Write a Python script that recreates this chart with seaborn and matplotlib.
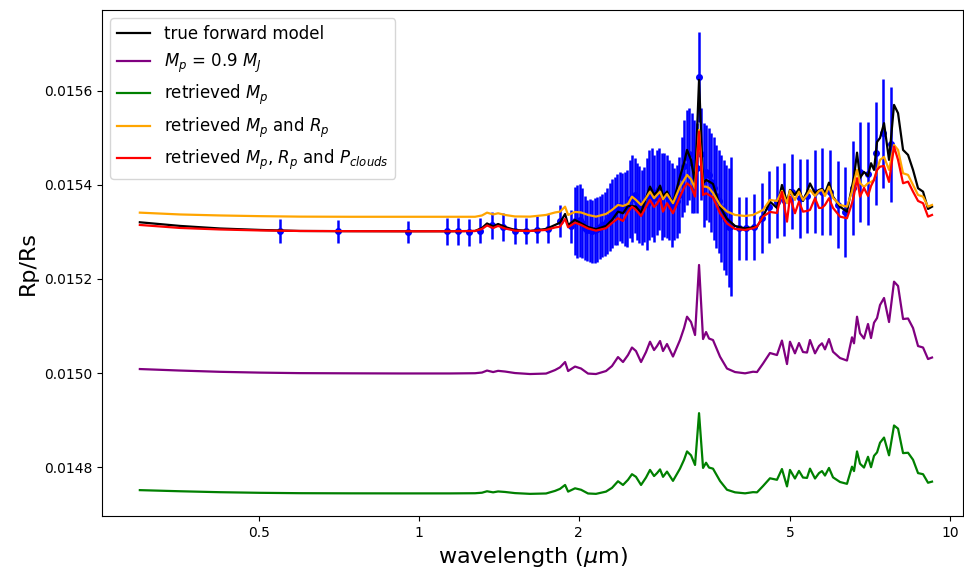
import numpy as np
import pandas as pd
import matplotlib
matplotlib.use("Agg")
import matplotlib.pyplot as plt
import seaborn as sns
from matplotlib.ticker import FixedLocator, NullLocator, FixedFormatter

# ---------------- data ----------------
wavelength = [
    0.298, 0.355, 0.422, 0.502, 0.597, 0.742, 0.921, 1.144, 1.275, 1.314,
    1.343, 1.379, 1.409, 1.452, 1.516, 1.618, 1.735, 1.804, 1.843, 1.884,
    1.909, 1.967, 2.019, 2.081, 2.154, 2.250, 2.309, 2.370, 2.422, 2.475,
    2.518, 2.562, 2.619, 2.676, 2.723, 2.771, 2.807, 2.844, 2.881, 2.931,
    3.008, 3.101, 3.156, 3.197, 3.253, 3.310, 3.368, 3.427, 3.472, 3.517,
    3.578, 3.689, 3.802, 3.937, 4.112, 4.256, 4.331, 4.445, 4.581, 4.722,
    4.825, 4.932, 4.996, 5.105, 5.195, 5.286, 5.379, 5.449, 5.569, 5.666,
    5.740, 5.815, 5.917, 6.021, 6.207, 6.397, 6.538, 6.595, 6.682, 6.769,
    6.887, 7.008, 7.100, 7.193, 7.288, 7.383, 7.512, 7.677, 7.845, 7.983,
    8.158, 8.337, 8.519, 8.706, 8.897, 9.091, 9.250,
]

true_model = [
    0.0153206, 0.0153128, 0.0153074, 0.0153043, 0.0153021, 0.0153017, 0.0153015, 0.0153015, 0.0153021, 0.0153085,
    0.0153181, 0.0153117, 0.0153170, 0.0153106, 0.0153043, 0.0153021, 0.0153064, 0.0153149, 0.0153198, 0.0153383,
    0.0153149, 0.0153255, 0.0153185, 0.0153106, 0.0153057, 0.0153128, 0.0153255, 0.0153432, 0.0153398, 0.0153553,
    0.0153553, 0.0153538, 0.0153404, 0.0153723, 0.0153964, 0.0153787, 0.0153851, 0.0153985, 0.0153755, 0.0153857,
    0.0153611, 0.0154177, 0.0154468, 0.0154745, 0.0154532, 0.0154036, 0.0156234, 0.0154036, 0.0154106, 0.0154074,
    0.0154021, 0.0153538, 0.0153277, 0.0153128, 0.0153074, 0.0153100, 0.0153113, 0.0153326, 0.0153645, 0.0153511,
    0.0154000, 0.0153638, 0.0153894, 0.0153787, 0.0153915, 0.0153660, 0.0153851, 0.0154032, 0.0153823, 0.0153894,
    0.0153915, 0.0153823, 0.0154049, 0.0153751, 0.0153538, 0.0153432, 0.0153964, 0.0154170, 0.0154687, 0.0154149,
    0.0154277, 0.0154191, 0.0154462, 0.0154319, 0.0154915, 0.0155000, 0.0155313, 0.0154532, 0.0155702, 0.0155526,
    0.0154745, 0.0154638, 0.0154319, 0.0153930, 0.0153857, 0.0153489, 0.0153538,
]

mp_09 = [
    0.0150085, 0.0150053, 0.0150026, 0.0150009, 0.0149998, 0.0149994, 0.0149991, 0.0149991, 0.0149996, 0.0150011,
    0.0150053, 0.0150021, 0.0150047, 0.0150032, 0.0150000, 0.0149979, 0.0149989, 0.0150064, 0.0150121, 0.0150234,
    0.0150043, 0.0150138, 0.0150096, 0.0149989, 0.0149979, 0.0150043, 0.0150149, 0.0150340, 0.0150234, 0.0150383,
    0.0150543, 0.0150468, 0.0150234, 0.0150447, 0.0150666, 0.0150489, 0.0150574, 0.0150681, 0.0150468, 0.0150617,
    0.0150351, 0.0150702, 0.0150957, 0.0151198, 0.0151085, 0.0150809, 0.0152298, 0.0150723, 0.0150872, 0.0150734,
    0.0150702, 0.0150347, 0.0150096, 0.0150021, 0.0149994, 0.0150028, 0.0150021, 0.0150202, 0.0150426, 0.0150383,
    0.0150691, 0.0150191, 0.0150666, 0.0150419, 0.0150638, 0.0150447, 0.0150436, 0.0150702, 0.0150419, 0.0150574,
    0.0150632, 0.0150504, 0.0150723, 0.0150453, 0.0150319, 0.0150266, 0.0150760, 0.0150632, 0.0151198, 0.0150845,
    0.0150734, 0.0151043, 0.0150745, 0.0151070, 0.0151170, 0.0151447, 0.0151596, 0.0151085, 0.0151943, 0.0151851,
    0.0151149, 0.0151160, 0.0150957, 0.0150574, 0.0150543, 0.0150298, 0.0150330,
]

retrieved_mp = [
    0.0147510, 0.0147486, 0.0147466, 0.0147453, 0.0147445, 0.0147442, 0.0147441, 0.0147441, 0.0147444, 0.0147455,
    0.0147486, 0.0147463, 0.0147482, 0.0147471, 0.0147447, 0.0147431, 0.0147439, 0.0147494, 0.0147537, 0.0147620,
    0.0147478, 0.0147549, 0.0147518, 0.0147439, 0.0147431, 0.0147478, 0.0147557, 0.0147699, 0.0147620, 0.0147730,
    0.0147849, 0.0147793, 0.0147620, 0.0147778, 0.0147940, 0.0147809, 0.0147872, 0.0147951, 0.0147793, 0.0147904,
    0.0147707, 0.0147967, 0.0148156, 0.0148333, 0.0148250, 0.0148045, 0.0149147, 0.0147982, 0.0148093, 0.0147990,
    0.0147967, 0.0147704, 0.0147518, 0.0147463, 0.0147442, 0.0147467, 0.0147463, 0.0147597, 0.0147762, 0.0147730,
    0.0147959, 0.0147589, 0.0147940, 0.0147757, 0.0147919, 0.0147778, 0.0147770, 0.0147967, 0.0147757, 0.0147872,
    0.0147915, 0.0147820, 0.0147982, 0.0147782, 0.0147683, 0.0147644, 0.0148009, 0.0147915, 0.0148333, 0.0148072,
    0.0147990, 0.0148219, 0.0147998, 0.0148239, 0.0148313, 0.0148518, 0.0148628, 0.0148250, 0.0148885, 0.0148817,
    0.0148297, 0.0148305, 0.0148156, 0.0147872, 0.0147849, 0.0147667, 0.0147691,
]

retrieved_mp_rp = [
    0.0153411, 0.0153372, 0.0153351, 0.0153336, 0.0153326, 0.0153323, 0.0153323, 0.0153323, 0.0153323, 0.0153351,
    0.0153411, 0.0153372, 0.0153398, 0.0153362, 0.0153330, 0.0153326, 0.0153362, 0.0153415, 0.0153432, 0.0153538,
    0.0153362, 0.0153426, 0.0153415, 0.0153362, 0.0153326, 0.0153383, 0.0153468, 0.0153574, 0.0153553, 0.0153596,
    0.0153751, 0.0153681, 0.0153574, 0.0153723, 0.0153857, 0.0153717, 0.0153787, 0.0153857, 0.0153696, 0.0153809,
    0.0153611, 0.0153964, 0.0154106, 0.0154213, 0.0154121, 0.0153930, 0.0155170, 0.0153964, 0.0153964, 0.0153936,
    0.0153830, 0.0153574, 0.0153436, 0.0153362, 0.0153340, 0.0153362, 0.0153404, 0.0153468, 0.0153681, 0.0153660,
    0.0153872, 0.0153611, 0.0153879, 0.0153681, 0.0153857, 0.0153681, 0.0153787, 0.0153894, 0.0153766, 0.0153872,
    0.0153894, 0.0153766, 0.0153964, 0.0153723, 0.0153574, 0.0153538, 0.0153857, 0.0154064, 0.0154319, 0.0154043,
    0.0153957, 0.0154036, 0.0154064, 0.0154106, 0.0154319, 0.0154532, 0.0154596, 0.0154319, 0.0154851, 0.0154745,
    0.0154249, 0.0154213, 0.0154000, 0.0153787, 0.0153751, 0.0153538, 0.0153574,
]

retrieved_mp_rp_pc = [
    0.0153149, 0.0153085, 0.0153053, 0.0153032, 0.0153021, 0.0153017, 0.0153015, 0.0153015, 0.0153021, 0.0153064,
    0.0153138, 0.0153085, 0.0153128, 0.0153074, 0.0153028, 0.0153021, 0.0153043, 0.0153096, 0.0153113, 0.0153277,
    0.0153100, 0.0153198, 0.0153149, 0.0153074, 0.0153028, 0.0153079, 0.0153191, 0.0153291, 0.0153234, 0.0153426,
    0.0153538, 0.0153468, 0.0153340, 0.0153532, 0.0153681, 0.0153532, 0.0153596, 0.0153717, 0.0153432, 0.0153611,
    0.0153398, 0.0153751, 0.0153936, 0.0154036, 0.0153964, 0.0153751, 0.0155134, 0.0153787, 0.0153823, 0.0153787,
    0.0153734, 0.0153398, 0.0153181, 0.0153064, 0.0153043, 0.0153079, 0.0153117, 0.0153326, 0.0153426, 0.0153404,
    0.0153851, 0.0153219, 0.0153751, 0.0153398, 0.0153645, 0.0153432, 0.0153447, 0.0153468, 0.0153717, 0.0153511,
    0.0153511, 0.0153574, 0.0153717, 0.0153511, 0.0153326, 0.0153291, 0.0153611, 0.0153787, 0.0154143, 0.0153751,
    0.0153936, 0.0153766, 0.0153979, 0.0154106, 0.0154319, 0.0154389, 0.0154404, 0.0154064, 0.0154815, 0.0154532,
    0.0154036, 0.0154070, 0.0153857, 0.0153660, 0.0153611, 0.0153326, 0.0153362,
]

# observed spectrum (wavelength in micron, Rp/Rs, 1-sigma error in units of 1e-5)
obs_wavelength = [
    0.547, 0.703, 0.954, 1.127, 1.184, 1.242, 1.303, 1.372, 1.440, 1.515,
    1.590, 1.667, 1.752, 1.843, 1.933,
    1.9668, 1.9881, 2.0096, 2.0313, 2.0533, 2.0755, 2.0979, 2.1206, 2.1436, 2.1667,
    2.1902, 2.2139, 2.2378, 2.2620, 2.2865, 2.3112, 2.3362, 2.3614, 2.3870, 2.4128,
    2.4389, 2.4652, 2.4919, 2.5188, 2.5461, 2.5736, 2.6014, 2.6296, 2.6580, 2.6867,
    2.7158, 2.7451, 2.7748, 2.8048, 2.8352, 2.8658, 2.8968, 2.9281, 2.9598, 2.9918,
    3.0241, 3.0568, 3.0899, 3.1233, 3.1570, 3.1912, 3.2257, 3.2606, 3.2958, 3.3315,
    3.3675, 3.4039, 3.4407, 3.4779, 3.5155, 3.5535, 3.5919, 3.6308, 3.6700, 3.7097,
    3.7498, 3.7904, 3.8314, 3.8728,
    3.997, 4.130, 4.274, 4.420, 4.567, 4.716, 4.875, 5.041, 5.212, 5.386,
    5.562, 5.748, 5.943, 6.145, 6.350, 6.558, 6.777, 7.008, 7.246, 7.488, 7.742,
]

obs_value = [
    0.0153021, 0.0153015, 0.0153006, 0.0153011, 0.0153011, 0.0152989, 0.0153026, 0.0153138, 0.0153111, 0.0153021,
    0.0153021, 0.0153049, 0.0153070, 0.0153234, 0.0153117,
    0.0153234, 0.0153223, 0.0153245, 0.0153191, 0.0153085, 0.0153032, 0.0153032, 0.0153011, 0.0153032, 0.0153053,
    0.0153096, 0.0153138, 0.0153170, 0.0153234, 0.0153319, 0.0153394, 0.0153447, 0.0153479, 0.0153543, 0.0153511,
    0.0153489, 0.0153500, 0.0153702, 0.0153713, 0.0153777, 0.0153649, 0.0153585, 0.0153521, 0.0153585, 0.0153596,
    0.0153787, 0.0153840, 0.0153713, 0.0153840, 0.0153915, 0.0153755, 0.0153787, 0.0153755, 0.0153681, 0.0153574,
    0.0153596, 0.0153649, 0.0153787, 0.0154170, 0.0154404, 0.0154585, 0.0154660, 0.0154468, 0.0154394, 0.0154362,
    0.0156298, 0.0154660, 0.0154213, 0.0154266, 0.0154213, 0.0154053, 0.0153926, 0.0153755, 0.0153649, 0.0153500,
    0.0153362, 0.0153255, 0.0153096, 0.0153117,
    0.0153079, 0.0153079, 0.0153102, 0.0153298, 0.0153536, 0.0153638, 0.0153687, 0.0153855, 0.0153713, 0.0153766,
    0.0153857, 0.0153857, 0.0153840, 0.0153581, 0.0153426, 0.0153936, 0.0154277, 0.0154240, 0.0154674, 0.0155100, 0.0154862,
]

obs_error_1e5 = [
    2.49, 2.40, 2.34, 2.94, 2.91, 2.87, 2.66, 2.94, 2.94, 2.72,
    2.72, 2.81, 3.13, 3.40, 3.51,
    7.23, 7.77, 7.77, 7.45, 6.81, 6.49, 6.70, 6.70, 6.91, 6.91,
    6.70, 6.70, 6.81, 7.02, 7.23, 7.34, 7.23, 7.55, 7.34, 7.45,
    7.87, 8.19, 8.30, 9.26, 7.98, 8.19, 8.19, 7.98, 7.98, 9.79,
    9.57, 9.47, 9.26, 9.04, 8.72, 9.26, 8.94, 8.83, 8.51, 8.94,
    7.66, 7.77, 8.09, 8.51, 9.79, 10.11, 9.79, 10.64, 9.89, 9.57,
    9.57, 9.79, 11.06, 10.11, 10.00, 10.53, 10.96, 10.96, 10.96, 11.38,
    11.70, 11.70, 12.66, 14.79,
    6.74, 6.74, 6.98, 7.38, 7.62, 7.72, 7.72, 7.98, 8.47, 7.94,
    8.87, 9.21, 9.04, 9.30, 9.51, 10.00, 10.57, 10.91, 11.00, 11.55, 12.30,
]

series_labels = [
    "true forward model",
    r"$M_p$ = 0.9 $M_J$",
    r"retrieved $M_p$",
    r"retrieved $M_p$ and $R_p$",
    r"retrieved $M_p$, $R_p$ and $P_{clouds}$",
]
series_values = [true_model, mp_09, retrieved_mp, retrieved_mp_rp, retrieved_mp_rp_pc]
series_colors = ["black", "purple", "green", "orange", "red"]

x_ticks = [0.5, 1, 2, 5, 10]
x_tick_labels = ["0.5", "1", "2", "5", "10"]
y_ticks = [0.0148, 0.0150, 0.0152, 0.0154, 0.0156]
y_tick_labels = ["0.0148", "0.0150", "0.0152", "0.0154", "0.0156"]

# ---------------- plot ----------------
fig = plt.figure(figsize=(9.64, 5.71), dpi=100)
ax = fig.add_axes([102 / 964, 1 - 516 / 571, (963 - 102) / 964, (516 - 10) / 571])
ax.set_xscale("log")

ax.errorbar(obs_wavelength, obs_value, yerr=np.array(obs_error_1e5) * 1e-5,
            fmt="o", color="blue", ms=4, elinewidth=1.8, zorder=1)

for lab, vals, col in zip(series_labels, series_values, series_colors):
    df = pd.DataFrame({"wavelength": wavelength, "value": vals})
    sns.lineplot(data=df, x="wavelength", y="value", color=col, label=lab,
                 ax=ax, estimator=None, sort=False, lw=1.6, zorder=2)

ax.set_xlim(0.2529, 10.58)
ax.set_ylim(0.014696, 0.015772)
ax.xaxis.set_major_locator(FixedLocator(x_ticks))
ax.xaxis.set_major_formatter(FixedFormatter(x_tick_labels))
ax.xaxis.set_minor_locator(NullLocator())
ax.yaxis.set_major_locator(FixedLocator(y_ticks))
ax.yaxis.set_major_formatter(FixedFormatter(y_tick_labels))
ax.yaxis.set_minor_locator(NullLocator())
ax.tick_params(labelsize=10)

ax.set_xlabel(r"wavelength ($\mu$m)", fontsize=16)
ax.set_ylabel("Rp/Rs", fontsize=16)
ax.legend(loc="upper left", fontsize=12)

fig.savefig("out.png", dpi=100)
